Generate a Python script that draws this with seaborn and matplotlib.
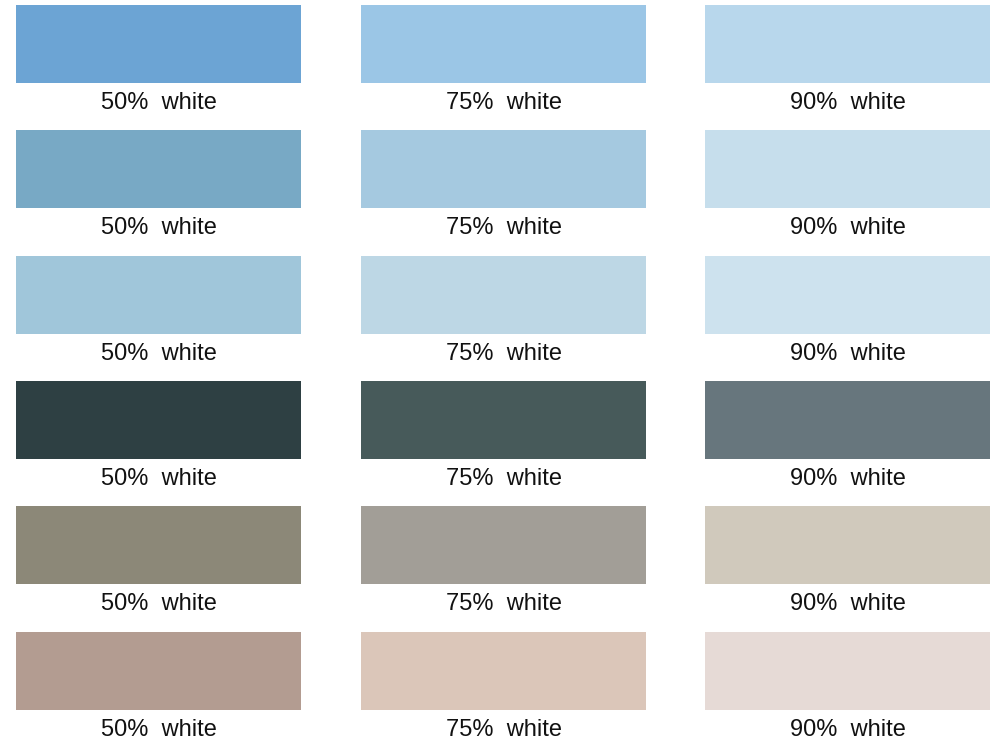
import matplotlib
matplotlib.use("Agg")
import matplotlib.pyplot as plt
import seaborn as sns
import pandas as pd

sns.set_theme(style="white")
plt.rcParams['font.family'] = ['Liberation Sans', 'DejaVu Sans']

rows = [0, 1, 2, 3, 4, 5]
tints = ["50%", "75%", "90%"]
labels = ["50%  white", "75%  white", "90%  white"]
colors_50 = ["#6CA4D4", "#78A9C5", "#A0C6DA", "#2E4043", "#8C8878", "#B39C91"]
colors_75 = ["#9BC6E6", "#A5C9E0", "#BDD7E5", "#475A5A", "#A29E97", "#DBC6B9"]
colors_90 = ["#B8D7EC", "#C6DEEC", "#CDE2EE", "#67767D", "#D0C9BC", "#E6DAD6"]

records = []
for ci, cols in enumerate([colors_50, colors_75, colors_90]):
    for r in rows:
        records.append({"row": r, "col": ci, "color": cols[r], "label": labels[ci]})
df = pd.DataFrame(records)

W, H = 995, 741
fig = plt.figure(figsize=(W / 100, H / 100), dpi=100)
ax = fig.add_axes([0, 0, 1, 1])
ax.set_xlim(0, W)
ax.set_ylim(H, 0)
ax.axis("off")

col_left = [16, 361, 705]
sw_w, sw_h = 285, 78
row_top0, row_pitch = 5, 125.3

for _, rec in df.iterrows():
    left = col_left[rec["col"]]
    top = row_top0 + rec["row"] * row_pitch
    ax.bar(left, sw_h, width=sw_w, bottom=top, align="edge",
           color=rec["color"], edgecolor="none", linewidth=0)
    ax.text(left + sw_w / 2, top + sw_h + 20, rec["label"], ha="center",
            va="center", fontsize=17, color="#111111")

fig.savefig("out.png", dpi=100, facecolor="white")
